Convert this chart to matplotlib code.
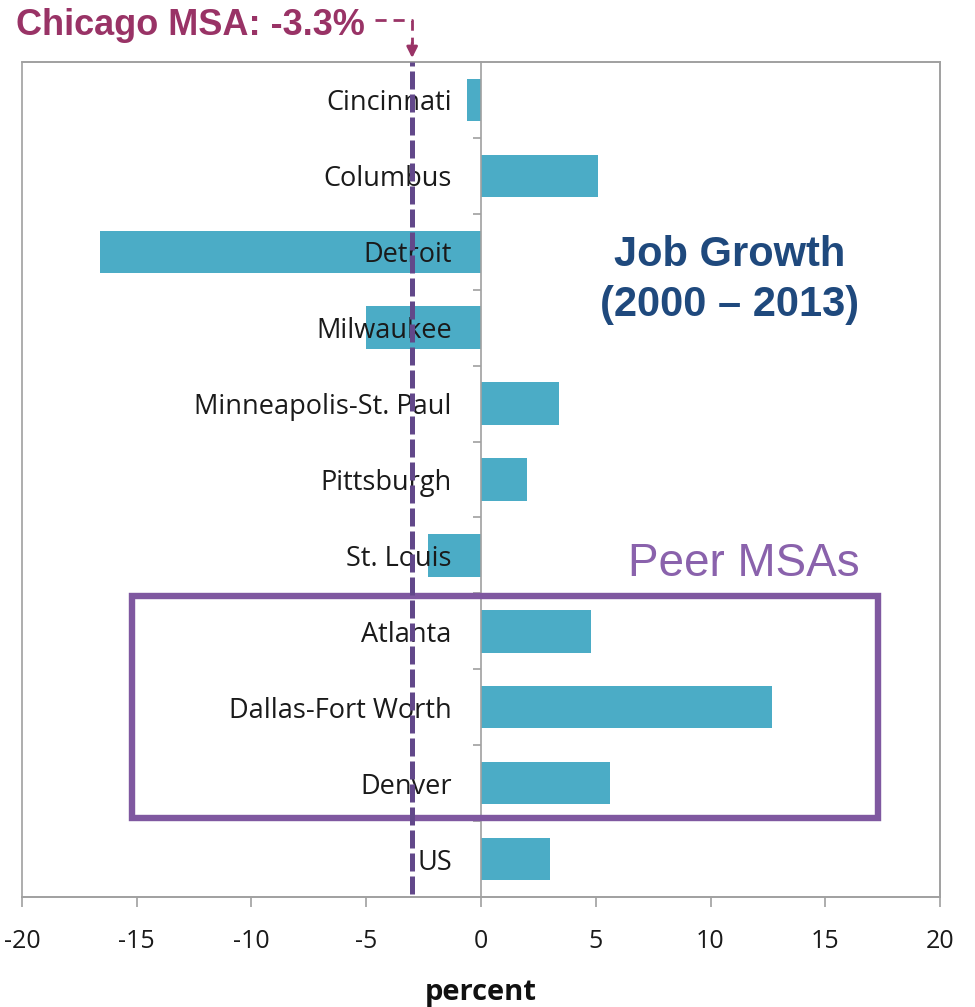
import matplotlib
matplotlib.use("Agg")
import matplotlib.pyplot as plt
from matplotlib.patches import Rectangle
from matplotlib import transforms
import numpy as np

# ---- data ----
categories = ["Cincinnati", "Columbus", "Detroit", "Milwaukee", "Minneapolis-St. Paul",
              "Pittsburgh", "St. Louis", "Atlanta", "Dallas-Fort Worth", "Denver", "US"]
growth = [-0.6, 5.1, -16.6, -5.0, 3.4, 2.0, -2.3, 4.8, 12.7, 5.6, 3.0]
peer_msas = ["Atlanta", "Dallas-Fort Worth", "Denver"]
chicago_label = "Chicago MSA: -3.3%"
chicago_line = -3.0
xticks = [-20, -15, -10, -5, 0, 5, 10, 15, 20]

BAR = "#4BACC6"
GRAY = "#A0A0A0"
MAGENTA = "#993366"
DPURPLE = "#62488A"
PURPLE = "#7F58A0"
NAVY = "#1F497D"
TICKFONT = "Open Sans"

fig = plt.figure(figsize=(9.75, 10.07), dpi=100)
W, H = 975, 1007
ax = fig.add_axes([22 / W, 1 - 897 / H, (940 - 22) / W, (897 - 62) / H])

y = np.arange(len(categories))
ax.barh(y, growth, height=0.56, color=BAR, zorder=1)

ax.set_xlim(-20, 20)
ax.set_ylim(len(categories) - 0.5, -0.5)

# spines / frame
for s in ax.spines.values():
    s.set_color(GRAY)
    s.set_linewidth(1.2)
ax.spines["left"].set_position(("data", 0))
ax.add_patch(Rectangle((0, 0), 1, 1, transform=ax.transAxes, fill=False,
                       ec=GRAY, lw=1.2, zorder=2.5, clip_on=False))

# y ticks: labels at categories, marks between categories
ax.set_yticks(y)
ax.set_yticklabels(categories, fontsize=19.5, family=TICKFONT, color="#1A1A1A")
ax.tick_params(axis="y", which="major", length=0, pad=21)
ax.set_yticks(np.arange(0.5, len(categories) - 0.5, 1), minor=True)
ax.tick_params(axis="y", which="minor", length=6, width=1.2, color=GRAY, direction="out")

# x ticks
ax.set_xticks(xticks)
ax.set_xticklabels([str(t) for t in xticks], fontsize=18, family=TICKFONT, color="#1A1A1A")
ax.tick_params(axis="x", length=7, width=1.2, color=GRAY, direction="out", pad=16)
ax.set_xlabel("percent", fontsize=21, weight="bold", family=TICKFONT, labelpad=17, color="#111111")

# Chicago reference line
ax.axvline(chicago_line, ymin=0.003, ymax=1, color=DPURPLE, lw=3.6, dashes=(3.6, 1.0), zorder=4)

# annotation at top
fig.text(16 / W, 1 - 35 / H, chicago_label, ha="left", va="baseline", fontsize=26,
         weight="bold", family="Liberation Sans", color=MAGENTA)
blend = transforms.blended_transform_factory(ax.transData, fig.transFigure)
ax.plot([-4.6, chicago_line, chicago_line], [1 - 20 / H, 1 - 20 / H, 1 - 44 / H],
        transform=blend, color=MAGENTA, lw=2, ls=(0, (4, 2.5)), clip_on=False, zorder=5)
ax.annotate("", xy=(chicago_line, 1 - 58 / H), xycoords=blend,
            xytext=(chicago_line, 1 - 43 / H), textcoords=blend,
            arrowprops=dict(arrowstyle="-|>", color=MAGENTA, lw=2, mutation_scale=16,
                            shrinkA=0, shrinkB=0), annotation_clip=False)

# Job growth title
fig.text(730 / W, 1 - 280 / H, "Job Growth\n(2000 – 2013)", ha="center", va="center",
         fontsize=30, weight="bold", family="Liberation Sans", color=NAVY, linespacing=1.35)

# Peer MSAs box
i0 = categories.index(peer_msas[0])
i1 = categories.index(peer_msas[-1])
ax.add_patch(Rectangle((-15.2, i0 - 0.46), 32.5, (i1 - i0) + 0.92, fill=False,
                       ec=PURPLE, lw=4.6, zorder=3, clip_on=False))
fig.text(860 / W, 1 - 576 / H, "Peer MSAs", ha="right", va="baseline", fontsize=33,
         family="Liberation Sans", color="#8A62AC")

fig.savefig("out.png", dpi=100)
